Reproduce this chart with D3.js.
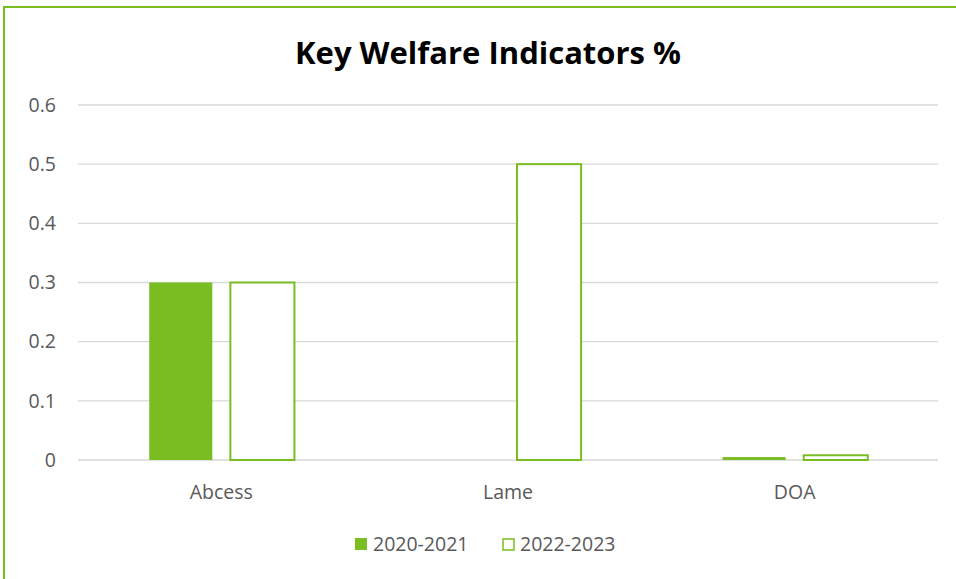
<!DOCTYPE html>
<html><head><meta charset="utf-8">
<script src="https://cdn.jsdelivr.net/npm/d3@7"></script>
<style>body{margin:0;background:#fff;overflow:hidden}svg{display:block}text{font-family:"Open Sans",sans-serif}</style>
</head><body><svg id="c" width="956" height="579"></svg>
<script>
const categories = ["Abcess", "Lame", "DOA"];
const seriesNames = ["2020-2021", "2022-2023"];
const values2020 = [0.3, 0, 0.005];
const values2022 = [0.3, 0.5, 0.008];
const yTicks = [0, 0.1, 0.2, 0.3, 0.4, 0.5, 0.6];
const title = "Key Welfare Indicators %";

const green = "#7ABD22";
const svg = d3.select("#c");
svg.append("path").attr("d","M4,579V7H956").attr("fill","none").attr("stroke",green).attr("stroke-width",2);

const m = {l:78, r:938, t:105, b:460};
const x = d3.scaleBand().domain(categories).range([m.l, m.r]);
const bw = x.bandwidth()*0.22, gap = x.bandwidth()*0.063;
const off = (x.bandwidth() - 2*bw - gap)/2;
const xs = d3.scaleOrdinal().domain(seriesNames).range([off, off+bw+gap]);
const y = d3.scaleLinear().domain([0, 0.6]).range([m.b, m.t]);

svg.append("g").selectAll("line").data(yTicks).join("line")
  .attr("x1", m.l).attr("x2", m.r).attr("y1", d=>y(d)).attr("y2", d=>y(d))
  .attr("stroke","#d9d9d9").attr("stroke-width",1.3);

svg.append("g").selectAll("text").data(yTicks).join("text")
  .attr("x", 56).attr("y", d=>y(d)).attr("dy","0.35em").attr("text-anchor","end")
  .attr("font-size",19.5).attr("fill","#595959").text(d=>d===0?"0":d3.format(".1f")(d));

svg.append("g").selectAll("text").data(categories).join("text")
  .attr("x", d=>x(d)+x.bandwidth()/2).attr("y", 492).attr("dy","0.35em").attr("text-anchor","middle")
  .attr("font-size",19.5).attr("fill","#595959").text(d=>d);

const data = categories.map((c,i)=>({c, v:[values2020[i], values2022[i]]}));
const g = svg.append("g");
data.forEach(d=>{
  seriesNames.forEach((s,j)=>{
    const v = d.v[j];
    if (v<=0) return;
    const bx = x(d.c)+xs(s);
    if (j===0) {
      g.append("rect").attr("x",bx).attr("y",y(v)).attr("width",bw).attr("height",y(0)-y(v))
        .attr("fill",green);
    } else {
      g.append("rect").attr("x",bx).attr("y",y(v)).attr("width",bw+1).attr("height",Math.max(0,y(0)-y(v)))
        .attr("fill","#fff").attr("stroke",green).attr("stroke-width",2);
    }
  });
});

svg.append("text").attr("x", 488).attr("y", 53).attr("dy","0.35em").attr("text-anchor","middle")
  .attr("font-size",31).attr("font-weight","bold").attr("fill","#000").text(title);

const lg = svg.append("g");
const lx = [355, 502];
seriesNames.forEach((s,j)=>{
  if (j===0) lg.append("rect").attr("x",lx[j]).attr("y",538).attr("width",12).attr("height",12).attr("fill",green);
  else lg.append("rect").attr("x",lx[j]+1).attr("y",539).attr("width",11).attr("height",11).attr("fill","#fff").attr("stroke",green).attr("stroke-width",1.5);
  lg.append("text").attr("x",lx[j]+18).attr("y",544).attr("dy","0.35em").attr("font-size",19.5).attr("fill","#595959").text(s);
});
</script></body></html>
